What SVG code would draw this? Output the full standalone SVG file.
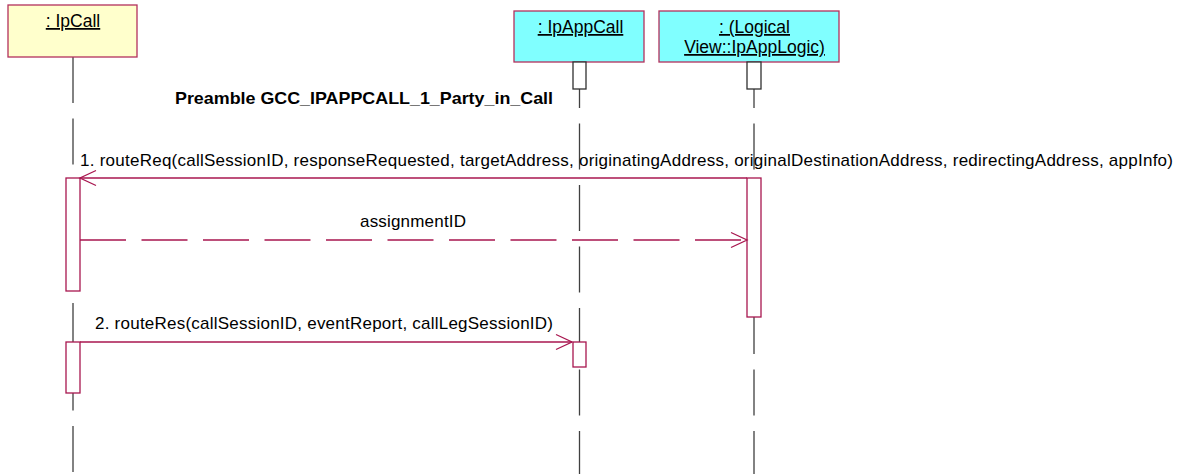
<svg xmlns="http://www.w3.org/2000/svg" width="1182" height="474" viewBox="0 0 1182 474">
<style>
text{font-family:"Liberation Sans",Arial,sans-serif;font-size:17px;fill:#000}
.lbl{text-decoration:underline;text-anchor:middle;font-size:17.5px}
.obj{stroke:#b3305c;stroke-width:1.3}
.life{stroke:#404040;stroke-width:1.3;stroke-dasharray:46 15.5;fill:none}
.actg{fill:#fff;stroke:#303030;stroke-width:1.3}
.actr{fill:#fff;stroke:#a8164f;stroke-width:1.3}
.msg{stroke:#a8164f;stroke-width:1.3;fill:none;marker-end:url(#open)}
.ret{stroke-dasharray:46 15.5}
.title{font-weight:bold}
</style>
<defs>
<marker id="open" markerUnits="userSpaceOnUse" markerWidth="18" markerHeight="18" refX="16" refY="7.5" orient="auto" overflow="visible">
<path d="M0,0 L16,7.5 L0,15" fill="none" stroke="#a8164f" stroke-width="1.3" stroke-dasharray="none"/>
</marker>
</defs>
<g id="lifelines">
<line class="life" x1="73" y1="57" x2="73" y2="474"/>
<line class="life" x1="579.5" y1="62" x2="579.5" y2="474"/>
<line class="life" x1="754" y1="62" x2="754" y2="474"/>
</g>
<g id="IpCall">
<rect class="obj" x="8" y="5" width="129" height="52" fill="#ffffcc"/>
<text class="lbl" x="73" y="27">: IpCall</text>
<rect class="actr" x="66" y="178" width="14" height="113"/>
<rect class="actr" x="66" y="342" width="14" height="51"/>
</g>
<g id="IpAppCall">
<rect class="obj" x="514" y="11" width="130" height="51" fill="#80ffff"/>
<text class="lbl" x="580.5" y="33">: IpAppCall</text>
<rect class="actg" x="573" y="62" width="13" height="27"/>
<rect class="actr" x="573" y="342" width="13" height="25"/>
</g>
<g id="IpAppLogic">
<rect class="obj" x="659" y="11" width="180" height="51" fill="#80ffff"/>
<text class="lbl" x="754.5" y="33">: (Logical </text>
<text class="lbl" x="754.5" y="53">View::IpAppLogic)</text>
<rect class="actg" x="747" y="62" width="14" height="27"/>
<rect class="actr" x="747" y="178" width="14" height="139"/>
</g>
<g id="connectors">
<line class="msg" x1="747" y1="178" x2="80" y2="178"/>
<line class="msg ret" x1="80" y1="240" x2="747" y2="240"/>
<line class="msg" x1="80" y1="342" x2="572" y2="342"/>
</g>
<g id="labels">
<text class="title" x="175" y="104" textLength="378" lengthAdjust="spacingAndGlyphs">Preamble GCC_IPAPPCALL_1_Party_in_Call</text>
<text x="80" y="166" textLength="1093" lengthAdjust="spacing">1. routeReq(callSessionID, responseRequested, targetAddress, originatingAddress, originalDestinationAddress, redirectingAddress, appInfo)</text>
<text x="360" y="227" textLength="106" lengthAdjust="spacing">assignmentID</text>
<text x="95" y="329" textLength="458" lengthAdjust="spacing">2. routeRes(callSessionID, eventReport, callLegSessionID)</text>
</g>
</svg>
